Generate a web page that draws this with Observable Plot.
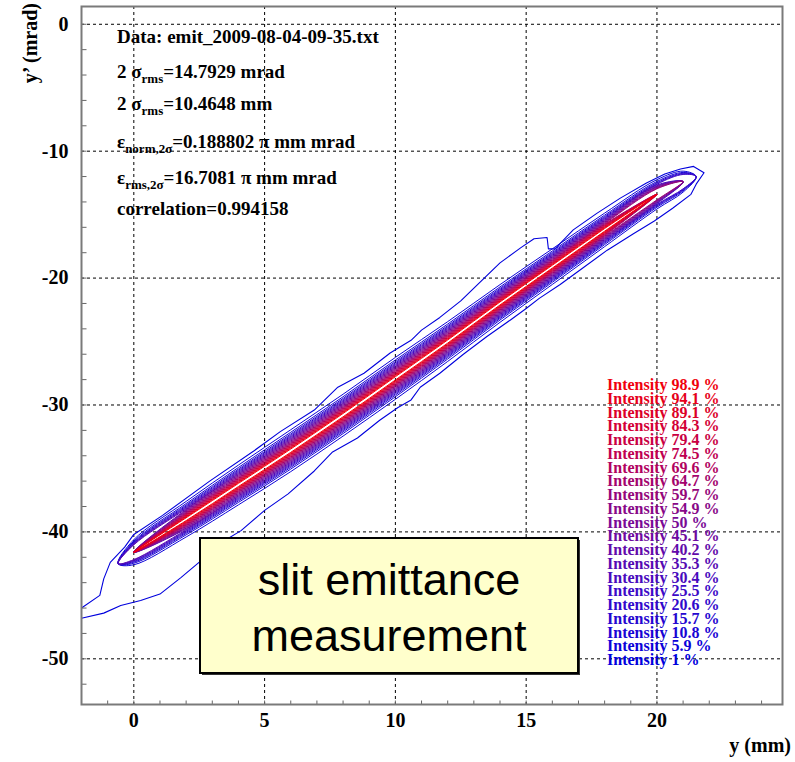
<!DOCTYPE html>
<html><head><meta charset="utf-8">
<script src="https://cdn.jsdelivr.net/npm/d3@7"></script>
<script src="https://cdn.jsdelivr.net/npm/@observablehq/plot@0.6"></script>
<style>
body{margin:0;background:#fff;}
#chart{position:relative;width:795px;height:762px;}
</style></head><body><div id="chart"></div>
<script>
// ---- data ----
const xDomain = [-2, 24.8];
const yDomain = [-53.6, 1.4];
const xMajor = [0, 5, 10, 15, 20];
const yMajor = [0, -10, -20, -30, -40, -50];
const xMinor = [-1,0,1,2,3,4,5,6,7,8,9,10,11,12,13,14,15,16,17,18,19,20,21,22,23,24];
const yMinor = [0,-2,-4,-6,-8,-10,-12,-14,-16,-18,-20,-22,-24,-26,-28,-30,-32,-34,-36,-38,-40,-42,-44,-46,-48,-50,-52];

// contour levels (intensity %), low to high
const levels = [1, 5.9, 10.8, 15.7, 20.6, 25.5, 30.4, 35.3, 40.2, 45.1, 50, 54.9, 59.7, 64.7, 69.6, 74.5, 79.4, 84.3, 89.1, 94.1, 98.9];
const levelLabels = ["1", "5.9", "10.8", "15.7", "20.6", "25.5", "30.4", "35.3", "40.2", "45.1", "50", "54.9", "59.7", "64.7", "69.6", "74.5", "79.4", "84.3", "89.1", "94.1", "98.9"];
// palette of the contour levels
const paletteStops = [1, 25, 50, 75, 98.9];
const paletteColors = ["#0000dd", "#3c0ac8", "#7a0a96", "#c00050", "#f0000c"];

// beam ridge (centre line) of the phase-space distribution
const spineX = [-0.6, 0, 2, 4, 6, 8, 10, 12, 14, 16, 18, 20, 21, 21.5];
const spineY = [-42.5, -41.6, -39.0, -36.3, -33.6, -30.8, -27.9, -25.0, -22.0, -19.1, -16.2, -13.4, -12.4, -12.0];
// relative thickness of the band along the ridge
const spineScale = [0, 0.6, 0.85, 0.95, 1, 1, 1, 0.95, 0.9, 0.85, 0.8, 0.7, 0.5, 0];
// half-thickness (mrad) of each contour ring, levels 5.9 % .. 98.9 %
const ringHalfWidth = [1.65, 1.45, 1.32, 1.22, 1.13, 1.05, 0.97, 0.90, 0.83, 0.76, 0.69, 0.62, 0.56, 0.50, 0.44, 0.38, 0.32, 0.26, 0.20, 0.13];
const ringFrom = [0, 0, 0, 0, 0, 0, 0, 1, 1, 1, 1, 1, 1, 1, 1, 1, 1, 1, 1, 1];
const ringTo   = [13, 13, 13, 13, 13, 12, 12, 12, 12, 12, 12, 12, 11, 11, 11, 11, 11, 11, 11, 11];

// outermost (1 %) contour
const outerX = [-2.0, -1.3, -1.15, -0.9, -0.35, 0, 1.1, 2.9, 4.6, 5.6, 6.9, 7.8, 8.8, 9.8, 10.6, 11.0, 11.7, 12.5, 13.2, 14.0, 14.8, 15.3, 15.8, 15.85, 16.1, 16.8, 17.7, 18.6, 19.6, 20.3, 20.9, 21.4, 21.8, 21.5, 21.3, 20.6, 19.9, 19.1, 18.1, 17.1, 16.3, 15.5, 15.0, 14.4, 13.5, 12.6, 11.7, 10.95, 10.6, 10.1, 9.4, 8.55, 7.6, 6.9, 5.9, 5.0, 4.1, 3.3, 2.55, 1.8, 1.0, 0.26, -0.5, -1.15, -2.0];
const outerY = [-46.0, -45.0, -43.7, -42.4, -41.2, -40.2, -38.7, -36.0, -33.6, -32.1, -30.4, -28.6, -27.5, -25.9, -24.9, -24.1, -23.1, -21.8, -20.4, -18.8, -17.6, -16.9, -16.8, -17.7, -17.7, -16.2, -14.9, -13.7, -12.5, -11.8, -11.4, -11.2, -11.7, -12.6, -13.4, -14.5, -15.5, -16.5, -17.8, -19.3, -20.5, -21.6, -22.4, -23.3, -24.6, -26.0, -27.5, -28.6, -29.6, -30.2, -31.2, -32.6, -33.7, -35.2, -37.0, -38.3, -39.9, -40.9, -42.3, -43.6, -44.9, -45.4, -45.8, -46.4, -46.8];

// ---- tables for the marks ----
const ringRows = [];
ringHalfWidth.forEach((w, i) => {
  const a = ringFrom[i], b = ringTo[i], lev = levels[i + 1];
  ringRows.push({ring: i, level: lev, x: spineX[a], y: spineY[a]});
  for (let k = a + 1; k < b; k++) ringRows.push({ring: i, level: lev, x: spineX[k], y: spineY[k] + w * spineScale[k]});
  ringRows.push({ring: i, level: lev, x: spineX[b], y: spineY[b]});
  for (let k = b - 1; k > a; k--) ringRows.push({ring: i, level: lev, x: spineX[k], y: spineY[k] - w * spineScale[k]});
});
const outerRows = outerX.map((x, i) => ({x, y: outerY[i], level: levels[0]}));

const tickSymbolX = {draw(ctx) { ctx.moveTo(0, 0); ctx.lineTo(0, -4); }};
const tickSymbolY = {draw(ctx) { ctx.moveTo(0, 0); ctx.lineTo(5, 0); }};

const serif = "'Liberation Serif', 'Times New Roman', serif";

const chart = Plot.plot({
  width: 795, height: 762,
  marginTop: 6, marginRight: 13, marginBottom: 58, marginLeft: 81,
  style: {fontFamily: serif, fontSize: "20px", fontWeight: "bold", background: "#fff", overflow: "visible"},
  x: {domain: xDomain, axis: null},
  y: {domain: yDomain, axis: null},
  color: {type: "linear", domain: paletteStops, range: paletteColors, interpolate: "rgb"},
  marks: [
    Plot.ruleX(xMajor, {x: d => d, stroke: "#000", strokeWidth: 1, strokeDasharray: "3,3"}),
    Plot.ruleY(yMajor, {y: d => d, stroke: "#000", strokeWidth: 1, strokeDasharray: "3,3"}),
    Plot.line(outerRows, {x: "x", y: "y", stroke: "level", strokeWidth: 1.1}),
    Plot.line(ringRows, {x: "x", y: "y", z: "ring", stroke: "level", strokeWidth: 1, curve: "catmull-rom-closed"}),
    Plot.dot(xMinor, {x: d => d, y: yDomain[0], symbol: tickSymbolX, stroke: "#666", strokeWidth: 1, fill: "none"}),
    Plot.dot(yMinor, {y: d => d, x: xDomain[0], symbol: tickSymbolY, stroke: "#666", strokeWidth: 1, fill: "none"}),
    Plot.frame({stroke: "#7a7a7a", strokeWidth: 2}),
    Plot.text(xMajor, {x: d => d, text: d => String(d), frameAnchor: "bottom", dy: 22, fill: "#000"}),
    Plot.text(yMajor, {y: d => d, text: d => String(d), frameAnchor: "left", dx: -13, textAnchor: "end", fill: "#000"})
  ]
});
document.getElementById("chart").appendChild(chart);

// ---- annotations ----
const svg = d3.select(chart);
const color = chart.scale("color");

svg.append("text").attr("x", 791).attr("y", 752).attr("text-anchor", "end")
  .style("font", `bold 20px ${serif}`).attr("fill", "#000").text("y (mm)");
svg.append("text").attr("transform", "translate(37,3) rotate(-90)").attr("text-anchor", "end")
  .style("font", `bold 20px ${serif}`).attr("fill", "#000").text("y’ (mrad)");

const statsLines = [
  [["Data: emit_2009-08-04-09-35.txt"]],
  [["2 σ"], ["rms", 1], ["=14.7929 mrad"]],
  [["2 σ"], ["rms", 1], ["=10.4648 mm"]],
  [["ε"], ["norm,2σ", 1], ["=0.188802 π mm mrad"]],
  [["ε"], ["rms,2σ", 1], ["=16.7081 π mm mrad"]],
  [["correlation=0.994158"]]
];
const statsY = [43, 78, 110, 148, 184, 215];
statsLines.forEach((parts, i) => {
  const t = svg.append("text").attr("x", 117).attr("y", statsY[i]).attr("text-anchor", "start")
    .style("font", `bold 19px ${serif}`).attr("fill", "#000");
  let down = false;
  parts.forEach(([s, sub]) => {
    const ts = t.append("tspan").text(s);
    if (sub) { ts.attr("dy", 5).style("font-size", "13px"); down = true; }
    else if (down) { ts.attr("dy", -5); down = false; }
  });
});

// legend of contour levels (top = highest)
const legendLevels = levels.slice().reverse();
const legendLabels = levelLabels.slice().reverse();
legendLevels.forEach((lev, i) => {
  svg.append("text").attr("x", 607).attr("y", 390 + i * 13.75).attr("text-anchor", "start")
    .style("font", `bold 16px ${serif}`).attr("fill", color.apply(lev))
    .text(`Intensity ${legendLabels[i]} %`);
});

// callout box
const box = svg.append("g");
box.append("rect").attr("x", 202).attr("y", 540).attr("width", 378).attr("height", 135).attr("fill", "#333");
box.append("rect").attr("x", 200).attr("y", 538).attr("width", 378).attr("height", 135)
  .attr("fill", "#ffffcc").attr("stroke", "#000").attr("stroke-width", 2);
["slit emittance", "measurement"].forEach((s, i) => {
  box.append("text").attr("x", 389).attr("y", [595, 651][i]).attr("text-anchor", "middle")
    .style("font", "45px 'Liberation Sans', Arial, sans-serif").attr("fill", "#000").text(s);
});
</script></body></html>
